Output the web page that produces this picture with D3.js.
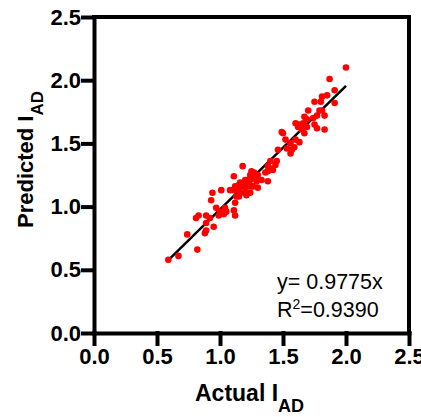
<!DOCTYPE html>
<html lang="en">
<head>
    <meta charset="UTF-8">
    <title>Predicted vs Actual I_AD</title>
    <script src="https://cdn.jsdelivr.net/npm/d3@7/dist/d3.min.js"></script>
    <style>
        body { margin: 0; background: #fff; }
        svg { display: block; font-family: "Liberation Sans", Arial, sans-serif; }
        .axis path, .axis line, .frame { stroke: #000; stroke-width: 4; stroke-linecap: square; }
        .axis text { font-size: 22px; font-weight: bold; fill: #000; font-family: "Liberation Sans", Arial, sans-serif; }
        .title { font-size: 22px; font-weight: bold; }
        .note { font-size: 21.5px; }
    </style>
</head>
<body>
<div id="chart"></div>
<script>
    // values
    var actual = [
        0.59, 0.67, 0.82, 0.74, 0.88, 0.89, 0.95, 0.89, 0.81, 0.83,
        0.89, 0.92, 0.97, 0.93, 0.94, 1.01, 0.99, 1.00, 1.03, 1.04,
        1.05, 1.08,
        1.11, 1.12, 1.12, 1.11, 1.13, 1.11, 1.15, 1.15, 1.17, 1.17,
        1.18, 1.20, 1.20, 1.20, 1.21, 1.21, 1.22, 1.24, 1.24, 1.24,
        1.25, 1.25, 1.27, 1.26, 1.29, 1.30, 1.30, 1.33, 1.15, 1.12,
        1.16, 1.22, 1.28,
        1.38, 1.38, 1.38, 1.41, 1.40, 1.44, 1.45, 1.46, 1.49, 1.52,
        1.53, 1.56, 1.56, 1.57, 1.59, 1.60, 1.63, 1.50, 1.42, 1.36,
        1.60, 1.62, 1.63, 1.65, 1.66, 1.67, 1.67, 1.69, 1.69, 1.70,
        1.74, 1.75, 1.77, 1.75, 1.77, 1.79, 1.80, 1.81, 1.81, 1.83,
        1.83, 1.85, 1.87, 1.91, 1.91, 2.00
    ];
    var predicted = [
        0.58, 0.61, 0.66, 0.78, 0.79, 0.81, 0.84, 0.87, 0.91, 0.93,
        0.93, 0.91, 0.99, 1.05, 1.11, 1.13, 0.93, 0.96, 0.94, 0.99,
        0.96, 1.13,
        0.97, 0.93, 1.03, 1.13, 1.08, 1.24, 1.17, 1.13, 1.11, 1.17,
        1.32, 1.21, 1.16, 1.12, 1.09, 1.21, 1.16, 1.21, 1.25, 1.11,
        1.28, 1.16, 1.27, 1.16, 1.20, 1.25, 1.15, 1.21, 1.08, 1.16,
        1.19, 1.19, 1.23,
        1.20, 1.28, 1.32, 1.30, 1.36, 1.33, 1.36, 1.45, 1.59, 1.53,
        1.46, 1.42, 1.50, 1.45, 1.47, 1.53, 1.51, 1.58, 1.29, 1.27,
        1.66, 1.63, 1.65, 1.61, 1.66, 1.71, 1.58, 1.69, 1.63, 1.76,
        1.70, 1.65, 1.62, 1.83, 1.72, 1.76, 1.83, 1.87, 1.76, 1.61,
        1.72, 1.88, 2.01, 1.92, 1.82, 2.10
    ];
    var ticks = [0, 0.5, 1.0, 1.5, 2.0, 2.5];
    var slope = 0.9775;
    var noteLines = ["y= 0.9775x", "R2=0.9390"];

    var w = 421, h = 417;
    var plotL = 94, plotR = 409, plotT = 17, plotB = 333;

    var x = d3.scaleLinear().domain([0, 2.5]).range([plotL, plotR]);
    var y = d3.scaleLinear().domain([0, 2.5]).range([plotB, plotT]);

    var svg = d3.select("#chart").append("svg")
        .attr("width", w)
        .attr("height", h);

    // frame on top and right
    svg.append("line").attr("class", "frame")
        .attr("x1", x(0)).attr("x2", x(2.5))
        .attr("y1", y(2.5)).attr("y2", y(2.5));
    svg.append("line").attr("class", "frame")
        .attr("x1", x(2.5)).attr("x2", x(2.5))
        .attr("y1", y(0)).attr("y2", y(2.5));

    svg.append("g")
        .attr("class", "axis")
        .attr("transform", `translate(0,${plotB})`)
        .call(d3.axisBottom(x).tickValues(ticks).tickFormat(d3.format(".1f"))
            .tickSize(11).tickSizeOuter(0).tickPadding(4));

    svg.append("g")
        .attr("class", "axis")
        .attr("transform", `translate(${plotL},0)`)
        .call(d3.axisLeft(y).tickValues(ticks).tickFormat(d3.format(".1f"))
            .tickSize(11).tickSizeOuter(0).tickPadding(2));

    svg.selectAll(".axis .tick line").attr("stroke-linecap", "butt");
    svg.selectAll(".axis text").attr("font-size", null).attr("font-family", null);

    // fit line through origin, drawn over the data range
    var xr = d3.extent(actual);
    svg.append("line")
        .attr("x1", x(xr[0])).attr("y1", y(xr[0] * slope))
        .attr("x2", x(xr[1])).attr("y2", y(xr[1] * slope))
        .attr("stroke", "#000")
        .attr("stroke-width", 2.5);

    svg.selectAll(".dot")
        .data(actual)
        .enter()
        .append("circle")
        .attr("class", "dot")
        .attr("cx", d => x(d))
        .attr("cy", (d, i) => y(predicted[i]))
        .attr("r", 3.3)
        .attr("fill", "#ff0000");

    // axis titles
    var xt = svg.append("text")
        .attr("class", "title")
        .attr("x", 195)
        .attr("y", 401)
        .style("font-size", "23px");
    xt.append("tspan").text("Actual I");
    xt.append("tspan").attr("dy", 11).style("font-size", "18px").text("AD");

    var yt = svg.append("text")
        .attr("class", "title")
        .attr("transform", "rotate(-90)")
        .attr("x", -228)
        .attr("y", 33);
    yt.append("tspan").text("Predicted I");
    yt.append("tspan").attr("dy", 10).style("font-size", "17px").text("AD");

    // equation note
    svg.append("text")
        .attr("class", "note")
        .attr("x", 277)
        .attr("y", 289)
        .text(noteLines[0]);

    var r2 = svg.append("text")
        .attr("class", "note")
        .attr("x", 277)
        .attr("y", 317);
    r2.append("tspan").text(noteLines[1].slice(0, 1));
    r2.append("tspan").attr("dy", -8).style("font-size", "14px").text(noteLines[1].slice(1, 2));
    r2.append("tspan").attr("dy", 8).text(noteLines[1].slice(2));
</script>
</body>
</html>
